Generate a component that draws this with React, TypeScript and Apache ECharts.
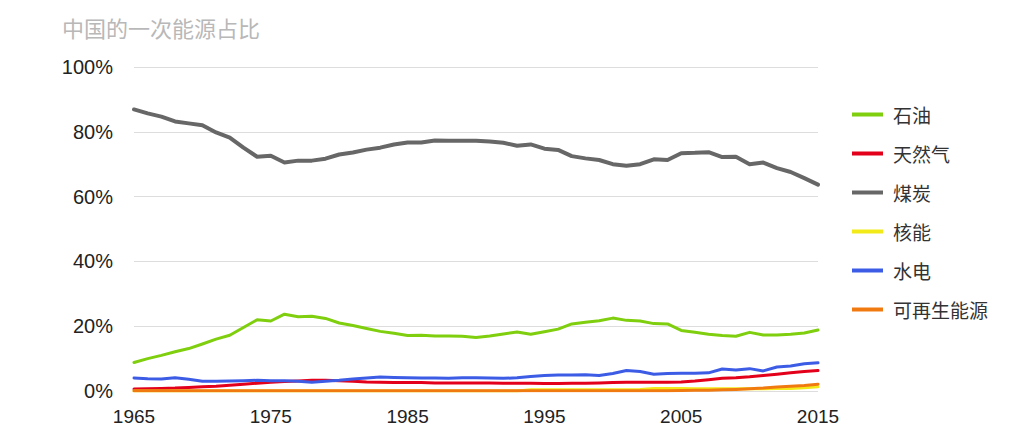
import React, { useEffect, useRef } from "react";
import * as echarts from "echarts";

const years = [
  "1965","1966","1967","1968","1969","1970","1971","1972","1973","1974",
  "1975","1976","1977","1978","1979","1980","1981","1982","1983","1984",
  "1985","1986","1987","1988","1989","1990","1991","1992","1993","1994",
  "1995","1996","1997","1998","1999","2000","2001","2002","2003","2004",
  "2005","2006","2007","2008","2009","2010","2011","2012","2013","2014","2015",
];

const oil = [
  8.8, 10.0, 11.0, 12.1, 13.1, 14.5, 16.0, 17.2, 19.6, 22.0,
  21.6, 23.7, 22.9, 23.1, 22.4, 21.0, 20.2, 19.3, 18.4, 17.8,
  17.1, 17.2, 17.0, 17.0, 16.9, 16.5, 17.0, 17.6, 18.2, 17.5,
  18.3, 19.1, 20.7, 21.2, 21.7, 22.5, 21.8, 21.6, 20.8, 20.7,
  18.7, 18.1, 17.5, 17.1, 16.9, 18.1, 17.3, 17.3, 17.5, 17.9, 18.8,
];

const gas = [
  0.6, 0.7, 0.8, 0.9, 1.1, 1.3, 1.5, 1.8, 2.1, 2.4,
  2.7, 2.9, 3.1, 3.3, 3.3, 3.2, 3.0, 2.8, 2.7, 2.6,
  2.6, 2.6, 2.5, 2.5, 2.5, 2.5, 2.5, 2.4, 2.4, 2.4,
  2.3, 2.3, 2.4, 2.4, 2.5, 2.6, 2.7, 2.7, 2.7, 2.7,
  2.8, 3.1, 3.5, 3.9, 4.1, 4.4, 4.8, 5.2, 5.6, 6.0, 6.3,
];

const coal = [
  86.9, 85.7, 84.7, 83.2, 82.6, 82.0, 79.8, 78.2, 75.1, 72.3,
  72.6, 70.5, 71.1, 71.1, 71.7, 73.0, 73.6, 74.5, 75.1, 76.1,
  76.7, 76.7, 77.3, 77.2, 77.2, 77.2, 77.0, 76.6, 75.7, 76.1,
  74.8, 74.4, 72.5, 71.8, 71.3, 70.0, 69.5, 70.0, 71.5, 71.3,
  73.4, 73.5, 73.7, 72.2, 72.3, 70.0, 70.5, 68.8, 67.6, 65.7, 63.7,
];

const nuclear = [
  0, 0, 0, 0, 0, 0, 0, 0, 0, 0,
  0, 0, 0, 0, 0, 0, 0, 0, 0, 0,
  0, 0, 0, 0, 0, 0, 0, 0, 0, 0.4,
  0.4, 0.4, 0.4, 0.4, 0.4, 0.4, 0.4, 0.5, 0.8, 0.8,
  0.8, 0.7, 0.7, 0.7, 0.7, 0.7, 0.7, 0.8, 0.8, 1.0, 1.3,
];

const hydro = [
  4.0, 3.8, 3.7, 4.1, 3.6, 3.0, 3.0, 3.1, 3.2, 3.3,
  3.2, 3.2, 3.0, 2.7, 3.0, 3.3, 3.7, 4.0, 4.3, 4.2,
  4.1, 4.0, 4.0, 3.9, 4.1, 4.1, 4.0, 3.9, 4.1, 4.5,
  4.8, 4.9, 4.9, 5.0, 4.8, 5.4, 6.3, 6.0, 5.2, 5.4,
  5.5, 5.5, 5.6, 6.8, 6.5, 6.9, 6.2, 7.4, 7.7, 8.4, 8.7,
];

const renewables = [
  0.1, 0.1, 0.1, 0.1, 0.1, 0.1, 0.1, 0.1, 0.1, 0.1,
  0.1, 0.1, 0.1, 0.1, 0.1, 0.1, 0.1, 0.1, 0.1, 0.1,
  0.1, 0.1, 0.1, 0.1, 0.1, 0.1, 0.1, 0.1, 0.1, 0.1,
  0.1, 0.1, 0.1, 0.1, 0.1, 0.1, 0.1, 0.1, 0.1, 0.1,
  0.15, 0.2, 0.25, 0.35, 0.5, 0.7, 0.9, 1.2, 1.5, 1.7, 2.1,
];

const seriesNames = ["石油", "天然气", "煤炭", "核能", "水电", "可再生能源"];
const seriesData = [oil, gas, coal, nuclear, hydro, renewables];
const seriesColors = ["#7fcf0e", "#e3001b", "#676767", "#f3ea1a", "#3d5ce6", "#f07a10"];
const seriesWidths = [3, 3, 4, 3, 3, 3];
const yTicks = [0, 20, 40, 60, 80, 100];

const latin = "'Liberation Sans', Arial, 'Noto Sans CJK SC', sans-serif";
const cjk = "'Noto Sans CJK SC', 'Noto Sans', sans-serif";

export default function App() {
  const ref = useRef<HTMLDivElement>(null);
  useEffect(() => {
    if (!ref.current) return;
    const chart = echarts.init(ref.current, undefined, { renderer: "svg" });
    chart.setOption({
      animation: false,
      backgroundColor: "#ffffff",
      title: {
        text: "中国的一次能源占比",
        left: 57,
        top: 11,
        textStyle: { fontFamily: cjk, fontSize: 22, fontWeight: "normal", color: "#b8b8b8" },
      },
      legend: {
        orient: "vertical",
        left: 847,
        top: 100,
        icon: "rect",
        itemWidth: 31,
        itemHeight: 4,
        itemGap: 20,
        data: seriesNames,
        textStyle: {
          fontFamily: cjk,
          fontSize: 19,
          lineHeight: 19,
          color: "#333333",
          padding: [0, 0, 0, 5],
        },
      },
      grid: { left: 134, right: 217, top: 67, bottom: 50, containLabel: false },
      xAxis: {
        type: "category",
        data: years,
        boundaryGap: false,
        axisLine: { show: false },
        axisTick: { show: false },
        splitLine: { show: false },
        axisLabel: {
          interval: (i: number) => i % 10 === 0,
          margin: 16,
          fontFamily: latin,
          fontSize: 19,
          color: "#222222",
        },
      },
      yAxis: {
        type: "value",
        min: yTicks[0],
        max: yTicks[yTicks.length - 1],
        interval: 20,
        axisLine: { show: false },
        axisTick: { show: false },
        splitLine: { lineStyle: { color: "#dddddd", width: 1 } },
        axisLabel: {
          formatter: "{value}%",
          margin: 21,
          fontFamily: latin,
          fontSize: 20,
          color: "#222222",
        },
      },
      series: seriesNames.map((name, i) => ({
        name,
        type: "line",
        data: seriesData[i],
        symbol: "none",
        showSymbol: false,
        smooth: false,
        color: seriesColors[i],
        lineStyle: { color: seriesColors[i], width: seriesWidths[i], join: "round", cap: "round" },
        z: 2 + i,
      })),
    });
    return () => chart.dispose();
  }, []);
  return (
    <div
      ref={ref}
      style={{ position: "absolute", left: 0, top: 0, width: 1035, height: 441 }}
    />
  );
}
